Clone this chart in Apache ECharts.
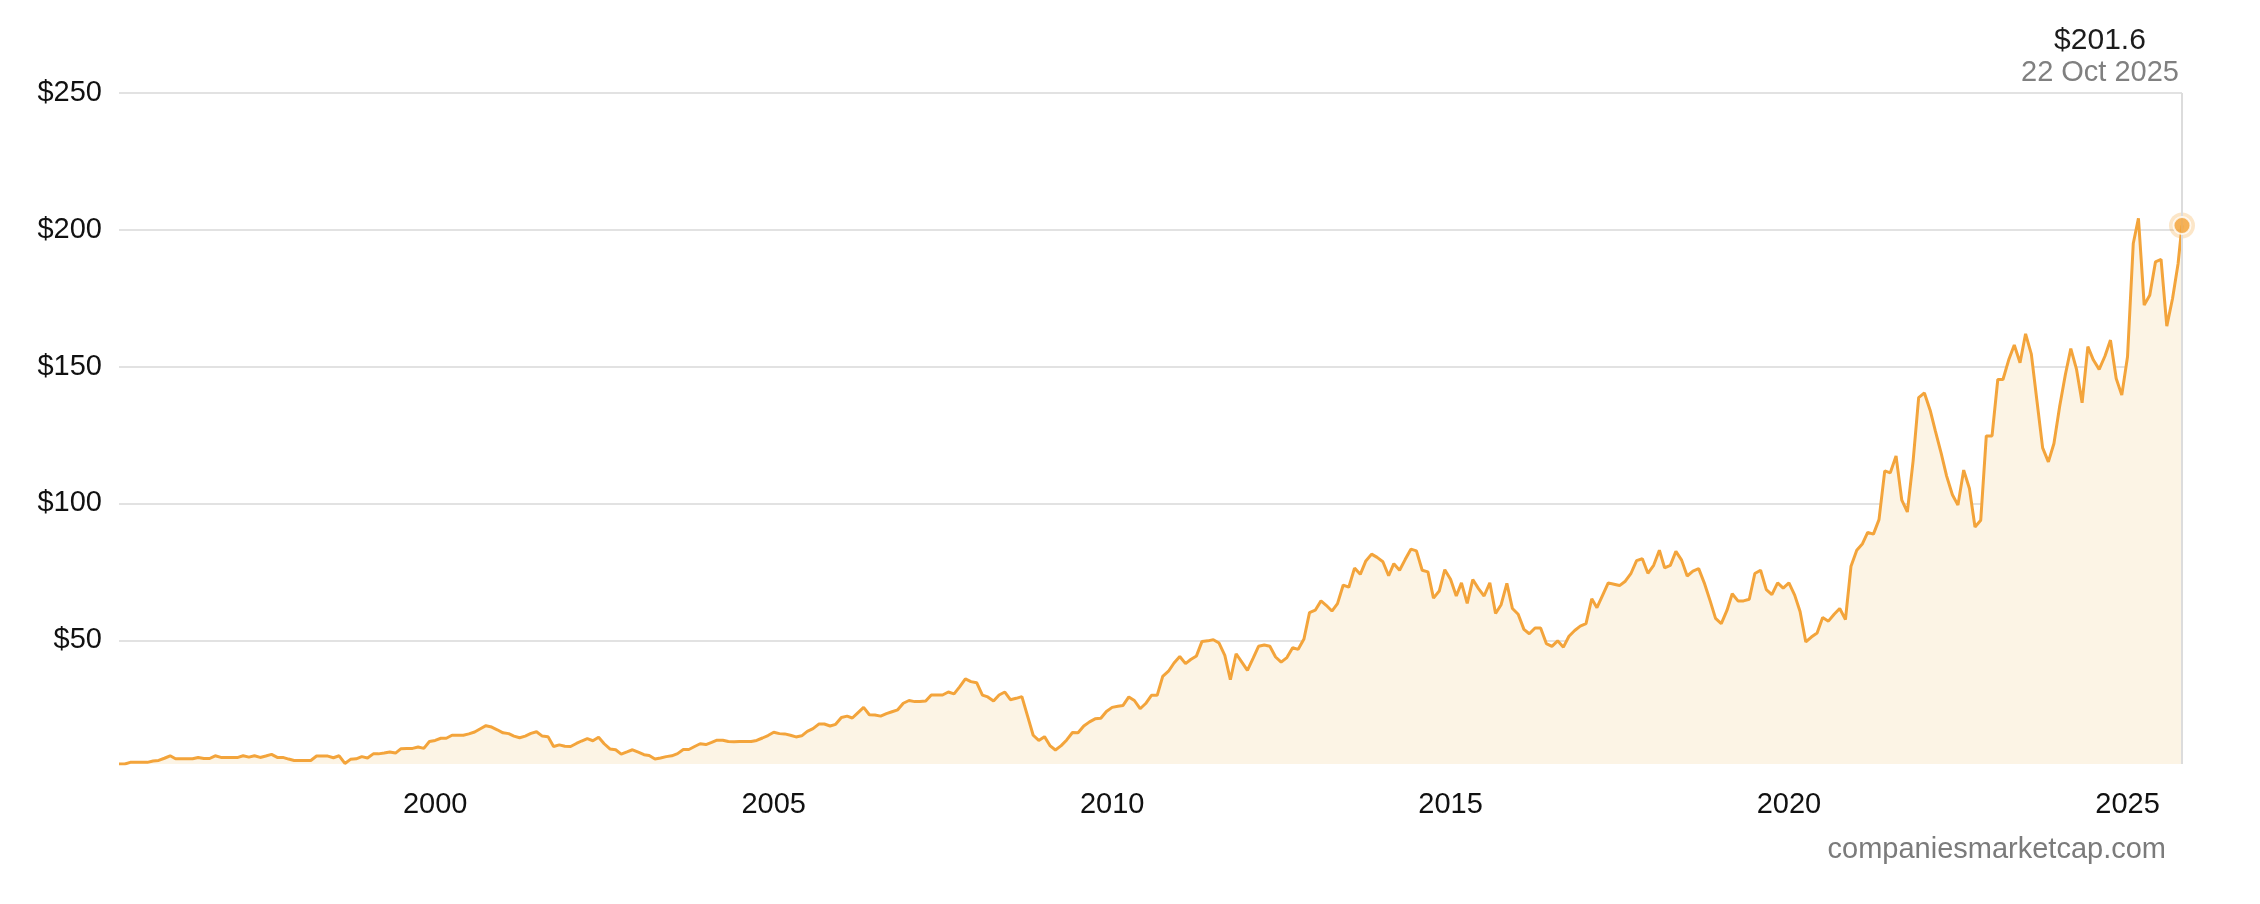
<!DOCTYPE html>
<html><head><meta charset="utf-8">
<script src="https://cdn.jsdelivr.net/npm/echarts@6/dist/echarts.min.js"></script>
<style>html,body{margin:0;padding:0;background:#fff}#c{width:2260px;height:904px}</style>
</head><body><div id="c"></div>
<script>
// first monthly point: May 1995, one value per month after that
const firstYear = 1995;
const firstMonthIndex = 4; // May (0-based)
const prices = [
  /*1995*/ 4.8, 4.8, 5.4, 5.4, 5.4, 5.4, 5.9, 6.1,
  /*1996*/ 6.9, 7.8, 6.7, 6.7, 6.7, 6.7, 7.2, 6.8, 6.8, 7.8, 7.2, 7.2,
  /*1997*/ 7.2, 7.2, 7.8, 7.3, 7.8, 7.2, 7.7, 8.3, 7.2, 7.2, 6.6, 6.1,
  /*1998*/ 6.1, 6.1, 6.1, 7.7, 7.7, 7.7, 7.1, 7.8, 5.0, 6.5, 6.7, 7.5,
  /*1999*/ 7.0, 8.5, 8.5, 8.8, 9.2, 8.8, 10.4, 10.5, 10.5, 11.0, 10.5, 13.0,
  /*2000*/ 13.4, 14.2, 14.2, 15.3, 15.3, 15.3, 15.8, 16.5, 17.7, 18.8, 18.3, 17.3,
  /*2001*/ 16.2, 15.9, 15.0, 14.4, 15.0, 16.0, 16.6, 15.0, 14.8, 11.2, 11.8, 11.3,
  /*2002*/ 11.2, 12.3, 13.2, 14.1, 13.3, 14.6, 12.2, 10.3, 10.0, 8.4, 9.2, 10.0,
  /*2003*/ 9.1, 8.2, 7.9, 6.6, 7.0, 7.5, 7.8, 8.6, 10.1, 10.1, 11.2, 12.2,
  /*2004*/ 11.9, 12.7, 13.5, 13.5, 13.0, 12.9, 13.0, 13.0, 13.0, 13.4, 14.3, 15.2,
  /*2005*/ 16.4, 15.9, 15.8, 15.3, 14.7, 15.1, 16.7, 17.7, 19.4, 19.4, 18.7, 19.3,
  /*2006*/ 21.8, 22.3, 21.6, 23.6, 25.5, 22.8, 22.7, 22.3, 23.2, 23.9, 24.6, 27.0,
  /*2007*/ 28.0, 27.6, 27.6, 27.8, 30.0, 30.0, 30.0, 31.1, 30.4, 33.0, 35.9, 34.9,
  /*2008*/ 34.5, 30.0, 29.3, 27.8, 30.0, 31.1, 28.3, 28.8, 29.4, 22.5, 15.3, 13.4,
  /*2009*/ 14.8, 11.4, 9.9, 11.5, 13.6, 16.3, 16.2, 18.7, 20.2, 21.3, 21.5, 24.0,
  /*2010*/ 25.5, 25.9, 26.2, 29.3, 28.0, 25.0, 26.9, 29.9, 29.9, 36.8, 38.7, 41.7,
  /*2011*/ 44.1, 41.5, 43.0, 44.3, 49.6, 49.8, 50.2, 49.0, 44.5, 35.6, 45.1, 42.1,
  /*2012*/ 39.0, 43.5, 47.8, 48.3, 47.8, 43.9, 42.0, 43.7, 47.3, 46.7, 50.5, 60.1,
  /*2013*/ 61.0, 64.4, 62.8, 60.7, 63.4, 70.2, 69.4, 76.4, 74.1, 79.0, 81.5, 80.3,
  /*2014*/ 78.7, 73.6, 78.0, 75.6, 79.5, 83.3, 82.7, 75.6, 75.0, 65.4, 68.0, 75.8,
  /*2015*/ 72.3, 66.2, 71.0, 63.5, 72.2, 68.9, 66.2, 71.0, 59.8, 63.0, 70.8, 61.6,
  /*2016*/ 59.5, 54.0, 52.4, 54.5, 54.5, 48.8, 47.8, 49.8, 47.5, 51.5, 53.6, 55.2,
  /*2017*/ 56.1, 65.2, 61.9, 66.5, 71.0, 70.5, 70.0, 71.6, 74.5, 79.1, 79.8, 74.5,
  /*2018*/ 77.4, 82.9, 76.5, 77.4, 82.5, 79.3, 73.5, 75.3, 76.2, 71.0, 64.6, 58.0,
  /*2019*/ 56.1, 61.0, 67.0, 64.4, 64.4, 65.0, 74.4, 75.6, 68.5, 66.7, 71.0, 69.1,
  /*2020*/ 71.0, 66.5, 60.5, 49.4, 51.2, 52.7, 58.3, 57.0, 59.5, 61.6, 57.6, 77.1,
  /*2021*/ 82.9, 85.3, 89.4, 88.8, 94.1, 111.9, 111.2, 117.4, 101.2, 96.9, 115.5, 138.7,
  /*2022*/ 140.4, 134.1, 126.5, 118.5, 110.0, 103.2, 99.4, 112.2, 105.5, 91.4, 93.9, 124.7,
  /*2023*/ 124.7, 145.3, 145.3, 152.5, 157.9, 151.4, 162.0, 154.6, 137.1, 120.3, 115.2, 121.9,
  /*2024*/ 135.5, 147.2, 156.6, 149.0, 136.8, 157.3, 152.4, 149.0, 153.8, 159.7, 145.7, 139.6,
  /*2025*/ 153.6, 195.0, 204.2, 172.5, 176.1, 188.3, 189.2, 164.8, 174.9, 187.7
];
const lastDate = [2025, 10, 22];
const lastPrice = 201.6;
const yTickValues = [50, 100, 150, 200, 250];
const yearLabels = [2000, 2005, 2010, 2015, 2020, 2025];
const monthNames = ['Jan','Feb','Mar','Apr','May','Jun','Jul','Aug','Sep','Oct','Nov','Dec'];
const sourceText = 'companiesmarketcap.com';

const lineColor = '#f3a43b';
const lastMs = Date.UTC(lastDate[0], lastDate[1] - 1, lastDate[2]);
const seriesData = prices.map((v, i) => [Date.UTC(firstYear, firstMonthIndex + i, 1), v]);
seriesData.push([lastMs, lastPrice]);
const yearMs = yearLabels.map(y => Date.UTC(y, 0, 1));

const chart = echarts.init(document.getElementById('c'), null, {renderer: 'canvas'});
const font = "'Liberation Sans', Arial, sans-serif";
chart.setOption({
  animation: false,
  backgroundColor: '#ffffff',
  grid: {left: 119, right: 78, top: 93, bottom: 140, outerBoundsMode: 'none', containLabel: false},
  xAxis: {
    type: 'value',
    min: 'dataMin', max: 'dataMax',
    axisLine: {show: false},
    axisTick: {show: false, customValues: yearMs},
    splitLine: {show: false},
    axisLabel: {
      customValues: yearMs,
      formatter: v => String(new Date(v).getUTCFullYear()),
      fontFamily: font, fontSize: 29, color: '#111', margin: 26
    }
  },
  yAxis: {
    type: 'value',
    min: 'dataMin', max: 250,
    axisLine: {show: false},
    axisTick: {show: false, customValues: yTickValues},
    axisLabel: {
      customValues: yTickValues,
      formatter: v => '$' + v,
      fontFamily: font, fontSize: 29, color: '#111', margin: 17
    },
    splitLine: {show: true, lineStyle: {color: '#e2e2e2', width: 2}}
  },
  series: [
    {
      type: 'line',
      data: seriesData,
      showSymbol: false,
      symbol: 'none',
      lineStyle: {color: lineColor, width: 3},
      areaStyle: {color: '#fcf4e5', opacity: 1},
      z: 3,
      markLine: {
        silent: true, symbol: 'none',
        label: {show: false},
        lineStyle: {color: '#dcdcdc', width: 2, type: 'solid'},
        data: [{xAxis: lastMs}]
      }
    },
    {
      type: 'scatter',
      data: [[lastMs, lastPrice]],
      symbolSize: 26,
      itemStyle: {color: 'rgba(243,164,59,0.35)'},
      z: 4, silent: true
    },
    {
      type: 'scatter',
      data: [[lastMs, lastPrice]],
      symbolSize: 17,
      itemStyle: {color: lineColor, borderColor: '#fff', borderWidth: 2},
      z: 5, silent: true
    }
  ],
  graphic: [
    {type: 'text', x: 2100, y: 41, style: {text: '$' + lastPrice.toFixed(1), font: '30px ' + font, fill: '#1c1c1c', align: 'center', verticalAlign: 'middle'}},
    {type: 'text', x: 2100, y: 73, style: {text: lastDate[2] + ' ' + monthNames[lastDate[1] - 1] + ' ' + lastDate[0], font: '29px ' + font, fill: '#808080', align: 'center', verticalAlign: 'middle'}},
    {type: 'text', x: 2166, y: 850, style: {text: sourceText, font: '29px ' + font, fill: '#7b7b7b', align: 'right', verticalAlign: 'middle'}}
  ]
});
</script></body></html>
